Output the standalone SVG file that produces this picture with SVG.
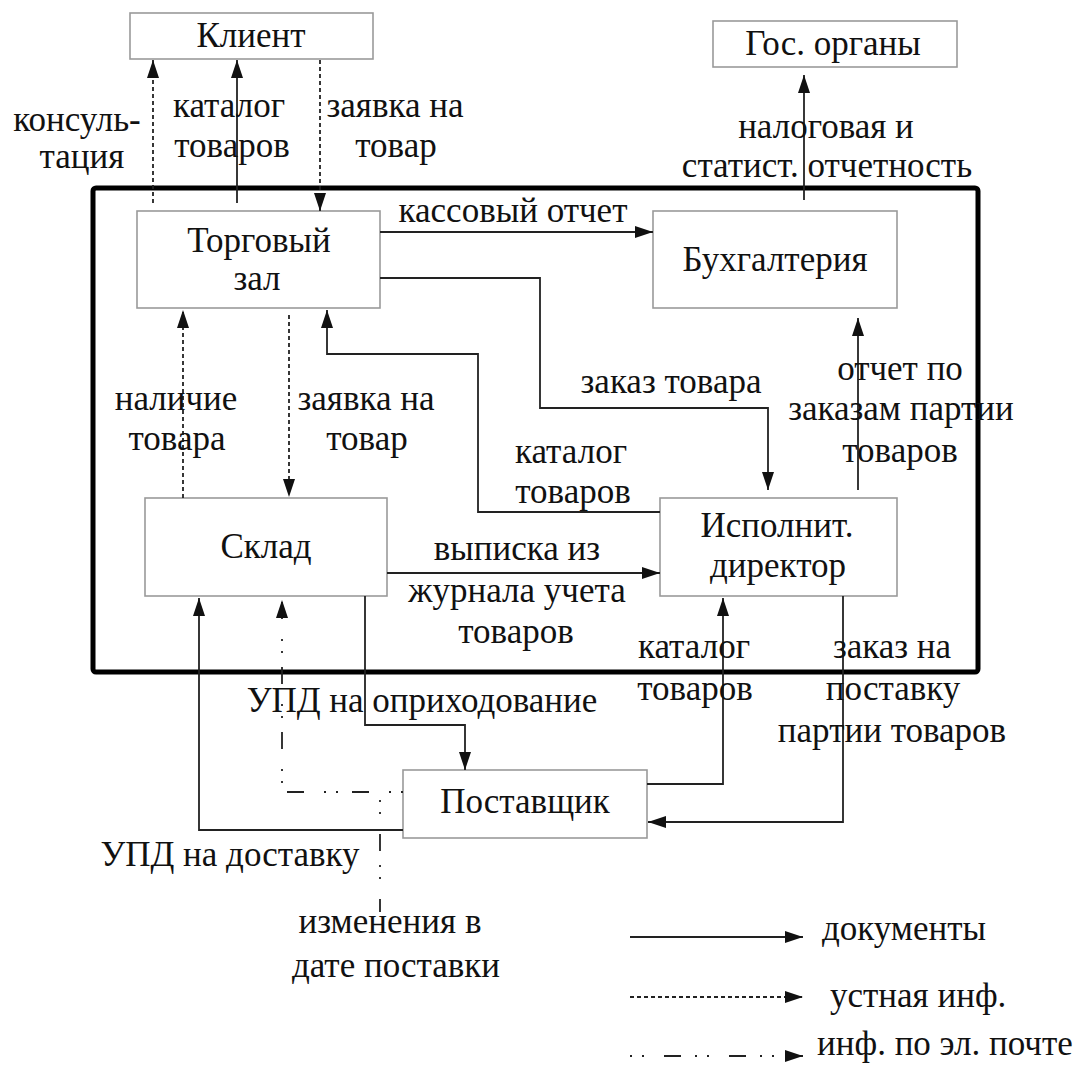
<svg xmlns="http://www.w3.org/2000/svg" width="1091" height="1068" viewBox="0 0 1091 1068" font-family="'Liberation Serif', 'Times New Roman', serif">
<defs>
<marker id="a" markerUnits="userSpaceOnUse" markerWidth="18" markerHeight="12" refX="18" refY="6" orient="auto">
<path d="M0,0 L18,6 L0,12 z" fill="#111"/>
</marker>
</defs>
<rect width="1091" height="1068" fill="#fff"/>
<rect x="93" y="188" width="885" height="484" rx="3" fill="none" stroke="#000" stroke-width="5"/>
<g fill="#fff" stroke="#9a9a9a" stroke-width="1.6">
<g id="klient"><rect x="130" y="13" width="243" height="46"/><text fill="#111" stroke="none" text-anchor="middle" font-family="'Liberation Serif', 'Times New Roman', serif" font-size="35" x="251" y="47">Клиент</text></g>
<g id="gos"><rect x="713" y="21" width="244" height="46"/><text fill="#111" stroke="none" text-anchor="middle" font-family="'Liberation Serif', 'Times New Roman', serif" font-size="35" x="833" y="55">Гос. органы</text></g>
<g id="torg"><rect x="137" y="211" width="243" height="97"/><text fill="#111" stroke="none" text-anchor="middle" font-family="'Liberation Serif', 'Times New Roman', serif" font-size="35" x="259" y="252">Торговый</text><text fill="#111" stroke="none" text-anchor="middle" font-family="'Liberation Serif', 'Times New Roman', serif" font-size="35" x="257" y="290">зал</text></g>
<g id="buh"><rect x="653" y="211" width="244" height="97"/><text fill="#111" stroke="none" text-anchor="middle" font-family="'Liberation Serif', 'Times New Roman', serif" font-size="35" x="775" y="271">Бухгалтерия</text></g>
<g id="sklad"><rect x="145" y="498" width="242" height="98"/><text fill="#111" stroke="none" text-anchor="middle" font-family="'Liberation Serif', 'Times New Roman', serif" font-size="35" x="266" y="558">Склад</text></g>
<g id="isp"><rect x="660" y="498" width="237" height="98"/><text fill="#111" stroke="none" text-anchor="middle" font-family="'Liberation Serif', 'Times New Roman', serif" font-size="35" x="777" y="537">Исполнит.</text><text fill="#111" stroke="none" text-anchor="middle" font-family="'Liberation Serif', 'Times New Roman', serif" font-size="35" x="778" y="577">директор</text></g>
<g id="post"><rect x="403" y="770" width="244" height="68"/><text fill="#111" stroke="none" text-anchor="middle" font-family="'Liberation Serif', 'Times New Roman', serif" font-size="35" x="525" y="813">Поставщик</text></g>
</g>
<g id="connectors" fill="none" stroke="#222" stroke-width="1.8">
<path stroke-dasharray="4 3" d="M153,203 V60" marker-end="url(#a)"/>
<path d="M237,203 V60" marker-end="url(#a)"/>
<path stroke-dasharray="4 3" d="M320,60 V211" marker-end="url(#a)"/>
<path d="M804,200 V75" marker-end="url(#a)"/>
<path d="M380,232 H653" marker-end="url(#a)"/>
<path d="M380,278 H540 V408 H768 V490" marker-end="url(#a)"/>
<path d="M660,512 H478 V354 H327 V310" marker-end="url(#a)"/>
<path d="M858,490 V318" marker-end="url(#a)"/>
<path stroke-dasharray="4 3" d="M183,498 V310" marker-end="url(#a)"/>
<path stroke-dasharray="4 3" d="M289,315 V497" marker-end="url(#a)"/>
<path d="M387,573 H660" marker-end="url(#a)"/>
<path d="M365,596 V725 H465 V770" marker-end="url(#a)"/>
<path d="M403,830 H199 V598" marker-end="url(#a)"/>
<path stroke-dasharray="2 10 2 20 17 14" d="M403,792 H282 V600" marker-end="url(#a)"/>
<path stroke-dasharray="2 10 2 20 17 14" d="M380,800 V912"/>
<path d="M843,596 V822 H648" marker-end="url(#a)"/>
<path d="M647,784 H723 V598" marker-end="url(#a)"/>
<path d="M630,937 H803" marker-end="url(#a)"/>
<path stroke-dasharray="4 3" d="M630,997 H803" marker-end="url(#a)"/>
<path stroke-dasharray="2 10 2 20 17 14" d="M630,1056 H803" marker-end="url(#a)"/>
</g>
<g id="labels" fill="#111">
<text text-anchor="middle" font-family="'Liberation Serif', 'Times New Roman', serif" font-size="35" x="77" y="131">консуль-</text><text text-anchor="middle" font-family="'Liberation Serif', 'Times New Roman', serif" font-size="35" x="82" y="168">тация</text>
<text text-anchor="middle" font-family="'Liberation Serif', 'Times New Roman', serif" font-size="35" x="229" y="117">каталог</text><text text-anchor="middle" font-family="'Liberation Serif', 'Times New Roman', serif" font-size="35" x="232" y="157">товаров</text>
<text text-anchor="middle" font-family="'Liberation Serif', 'Times New Roman', serif" font-size="35" x="395" y="117">заявка на</text><text text-anchor="middle" font-family="'Liberation Serif', 'Times New Roman', serif" font-size="35" x="396" y="157">товар</text>
<text text-anchor="middle" font-family="'Liberation Serif', 'Times New Roman', serif" font-size="35" x="826" y="138">налоговая и</text><text text-anchor="middle" font-family="'Liberation Serif', 'Times New Roman', serif" font-size="35" x="827" y="177">статист. отчетность</text>
<text text-anchor="middle" font-family="'Liberation Serif', 'Times New Roman', serif" font-size="35" x="513" y="222">кассовый отчет</text>
<text text-anchor="middle" font-family="'Liberation Serif', 'Times New Roman', serif" font-size="35" x="176" y="410">наличие</text><text text-anchor="middle" font-family="'Liberation Serif', 'Times New Roman', serif" font-size="35" x="177" y="450">товара</text>
<text text-anchor="middle" font-family="'Liberation Serif', 'Times New Roman', serif" font-size="35" x="366" y="410">заявка на</text><text text-anchor="middle" font-family="'Liberation Serif', 'Times New Roman', serif" font-size="35" x="367" y="450">товар</text>
<text text-anchor="middle" font-family="'Liberation Serif', 'Times New Roman', serif" font-size="35" x="671" y="393">заказ товара</text>
<text text-anchor="middle" font-family="'Liberation Serif', 'Times New Roman', serif" font-size="35" x="571" y="463">каталог</text><text text-anchor="middle" font-family="'Liberation Serif', 'Times New Roman', serif" font-size="35" x="573" y="503">товаров</text>
<text text-anchor="middle" font-family="'Liberation Serif', 'Times New Roman', serif" font-size="35" x="900" y="380">отчет по</text><text text-anchor="middle" font-family="'Liberation Serif', 'Times New Roman', serif" font-size="35" x="901" y="420">заказам партии</text><text text-anchor="middle" font-family="'Liberation Serif', 'Times New Roman', serif" font-size="35" x="900" y="462">товаров</text>
<text text-anchor="middle" font-family="'Liberation Serif', 'Times New Roman', serif" font-size="35" x="517" y="560">выписка из</text><text text-anchor="middle" font-family="'Liberation Serif', 'Times New Roman', serif" font-size="35" x="517" y="602">журнала учета</text><text text-anchor="middle" font-family="'Liberation Serif', 'Times New Roman', serif" font-size="35" x="516" y="643">товаров</text>
<text text-anchor="middle" font-family="'Liberation Serif', 'Times New Roman', serif" font-size="35" x="694" y="658">каталог</text><text text-anchor="middle" font-family="'Liberation Serif', 'Times New Roman', serif" font-size="35" x="695" y="700">товаров</text>
<text text-anchor="middle" font-family="'Liberation Serif', 'Times New Roman', serif" font-size="35" x="892" y="658">заказ на</text><text text-anchor="middle" font-family="'Liberation Serif', 'Times New Roman', serif" font-size="35" x="893" y="700">поставку</text><text text-anchor="middle" font-family="'Liberation Serif', 'Times New Roman', serif" font-size="35" x="892" y="742">партии товаров</text>
<text text-anchor="middle" font-family="'Liberation Serif', 'Times New Roman', serif" font-size="35" x="422" y="712">УПД на оприходование</text>
<text text-anchor="middle" font-family="'Liberation Serif', 'Times New Roman', serif" font-size="35" x="230" y="866">УПД на доставку</text>
<text text-anchor="middle" font-family="'Liberation Serif', 'Times New Roman', serif" font-size="35" x="390" y="933">изменения в</text><text text-anchor="middle" font-family="'Liberation Serif', 'Times New Roman', serif" font-size="35" x="396" y="977">дате поставки</text>
<text font-family="'Liberation Serif', 'Times New Roman', serif" font-size="35" x="822" y="940">документы</text>
<text font-family="'Liberation Serif', 'Times New Roman', serif" font-size="35" x="830" y="1007">устная инф.</text>
<text font-family="'Liberation Serif', 'Times New Roman', serif" font-size="35" x="817" y="1055">инф. по эл. почте</text>
</g>
</svg>
